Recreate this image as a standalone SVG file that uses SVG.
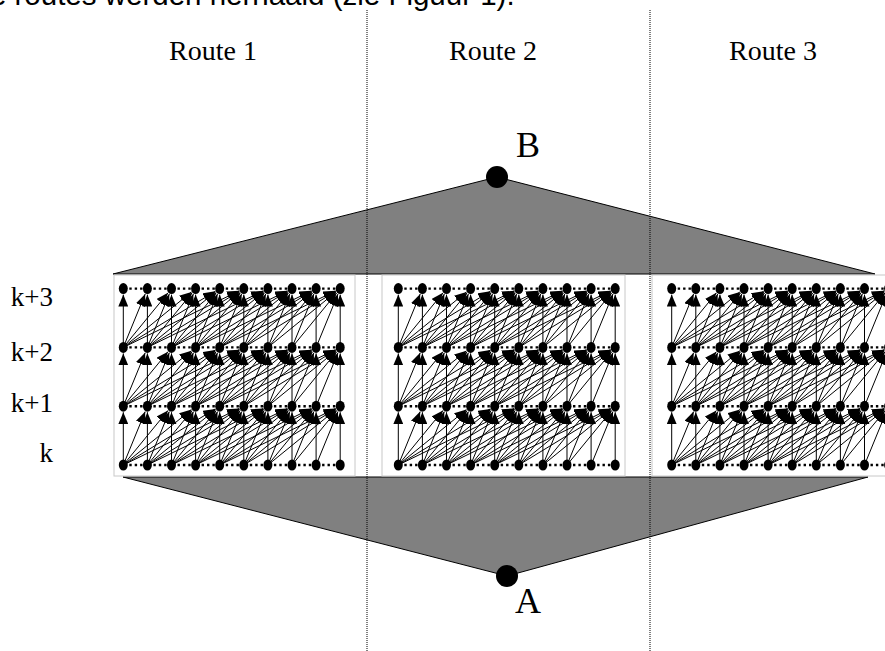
<svg xmlns="http://www.w3.org/2000/svg" xmlns:xlink="http://www.w3.org/1999/xlink" width="885" height="651" viewBox="0 0 885 651">
<style>
  .serif { font-family: "Liberation Serif", "Times New Roman", serif; fill: #000; }
  .sans { font-family: "Liberation Sans", Arial, sans-serif; fill: #000; }
  .tri { fill: #808080; stroke: #000; stroke-width: 1; }
  .box { fill: #fff; stroke: #c8c8c8; stroke-width: 1; }
  .sep { stroke: #000; stroke-width: 1; stroke-dasharray: 1 1; }
  .edge line { stroke: #000; stroke-width: 1; marker-end: url(#ah); }
  .dots { fill: none; stroke: #000; stroke-width: 2.4; stroke-dasharray: 2.4 3; }
  .node ellipse { fill: #000; }
</style>
<defs>
  <marker id="ah" viewBox="0 0 12 10" refX="12" refY="5" markerWidth="12" markerHeight="10" markerUnits="userSpaceOnUse" orient="auto">
    <path d="M0,0 L12,5 L0,10 z" fill="#000"/>
  </marker>
  <!-- dotted links between neighbouring positions of one time row -->
  <path id="dots" d="M6,0h13.5m10.6,0h13.5m10.6,0h13.5m10.6,0h13.5m10.6,0h13.5m10.6,0h13.5m10.6,0h13.5m10.6,0h13.5m10.6,0h13.5"/>
  <!-- transitions from one time row (y=58.8) to the next (y=0), at most five positions ahead -->
  <g id="layer" class="edge">
    <line x1="0" y1="58.8" x2="0" y2="6"/>
    <line x1="24.1" y1="58.8" x2="24.1" y2="6"/>
    <line x1="0" y1="58.8" x2="21.89" y2="5.37"/>
    <line x1="48.2" y1="58.8" x2="48.2" y2="6"/>
    <line x1="24.1" y1="58.8" x2="45.99" y2="5.37"/>
    <line x1="0" y1="58.8" x2="44.7" y2="4.26"/>
    <line x1="72.3" y1="58.8" x2="72.3" y2="6"/>
    <line x1="48.2" y1="58.8" x2="70.09" y2="5.37"/>
    <line x1="24.1" y1="58.8" x2="68.8" y2="4.26"/>
    <line x1="0" y1="58.8" x2="68.17" y2="3.35"/>
    <line x1="96.4" y1="58.8" x2="96.4" y2="6"/>
    <line x1="72.3" y1="58.8" x2="94.19" y2="5.37"/>
    <line x1="48.2" y1="58.8" x2="92.9" y2="4.26"/>
    <line x1="24.1" y1="58.8" x2="92.27" y2="3.35"/>
    <line x1="0" y1="58.8" x2="91.95" y2="2.71"/>
    <line x1="120.5" y1="58.8" x2="120.5" y2="6"/>
    <line x1="96.4" y1="58.8" x2="118.29" y2="5.37"/>
    <line x1="72.3" y1="58.8" x2="117" y2="4.26"/>
    <line x1="48.2" y1="58.8" x2="116.37" y2="3.35"/>
    <line x1="24.1" y1="58.8" x2="116.05" y2="2.71"/>
    <line x1="0" y1="58.8" x2="115.87" y2="2.25"/>
    <line x1="144.6" y1="58.8" x2="144.6" y2="6"/>
    <line x1="120.5" y1="58.8" x2="142.39" y2="5.37"/>
    <line x1="96.4" y1="58.8" x2="141.1" y2="4.26"/>
    <line x1="72.3" y1="58.8" x2="140.47" y2="3.35"/>
    <line x1="48.2" y1="58.8" x2="140.15" y2="2.71"/>
    <line x1="24.1" y1="58.8" x2="139.97" y2="2.25"/>
    <line x1="168.7" y1="58.8" x2="168.7" y2="6"/>
    <line x1="144.6" y1="58.8" x2="166.49" y2="5.37"/>
    <line x1="120.5" y1="58.8" x2="165.2" y2="4.26"/>
    <line x1="96.4" y1="58.8" x2="164.57" y2="3.35"/>
    <line x1="72.3" y1="58.8" x2="164.25" y2="2.71"/>
    <line x1="48.2" y1="58.8" x2="164.07" y2="2.25"/>
    <line x1="192.8" y1="58.8" x2="192.8" y2="6"/>
    <line x1="168.7" y1="58.8" x2="190.59" y2="5.37"/>
    <line x1="144.6" y1="58.8" x2="189.3" y2="4.26"/>
    <line x1="120.5" y1="58.8" x2="188.67" y2="3.35"/>
    <line x1="96.4" y1="58.8" x2="188.35" y2="2.71"/>
    <line x1="72.3" y1="58.8" x2="188.17" y2="2.25"/>
    <line x1="216.9" y1="58.8" x2="216.9" y2="6"/>
    <line x1="192.8" y1="58.8" x2="214.69" y2="5.37"/>
    <line x1="168.7" y1="58.8" x2="213.4" y2="4.26"/>
    <line x1="144.6" y1="58.8" x2="212.77" y2="3.35"/>
    <line x1="120.5" y1="58.8" x2="212.45" y2="2.71"/>
    <line x1="96.4" y1="58.8" x2="212.27" y2="2.25"/>
  </g>
</defs>

<rect width="885" height="651" fill="#fff"/>

<!-- running text above the figure -->
<text class="sans" x="-26.5" y="5" font-size="29.5">de routes werden herhaald (zie Figuur 1).</text>

<!-- funnels towards B (top) and from A (bottom) -->
<g id="funnel-B">
  <polygon class="tri" points="113,274 497,177 875,274"/>
  <circle cx="497" cy="177" r="11" fill="#000"/>
</g>
<g id="funnel-A">
  <polygon class="tri" points="123,477 507,576 868,477"/>
  <circle cx="507" cy="576" r="11" fill="#000"/>
</g>

<!-- route panels -->
<rect class="box" x="114" y="275" width="241" height="201"/>
<rect class="box" x="382" y="275" width="243" height="201"/>
<rect class="box" x="652" y="275" width="240" height="201"/>

<!-- route separators -->
<line class="sep" x1="367" y1="10" x2="367" y2="651"/>
<line class="sep" x1="650" y1="10" x2="650" y2="651"/>

<!-- labels -->
<text class="serif" x="213" y="60" font-size="28" text-anchor="middle">Route 1</text>
<text class="serif" x="493" y="60" font-size="28" text-anchor="middle">Route 2</text>
<text class="serif" x="773" y="60" font-size="28" text-anchor="middle">Route 3</text>
<text class="serif" x="516" y="157" font-size="36">B</text>
<text class="serif" x="515" y="613" font-size="36">A</text>
<text class="serif" x="53" y="306" font-size="27" text-anchor="end">k+3</text>
<text class="serif" x="53" y="361" font-size="27" text-anchor="end">k+2</text>
<text class="serif" x="53" y="412" font-size="27" text-anchor="end">k+1</text>
<text class="serif" x="53" y="462" font-size="27" text-anchor="end">k</text>

<!-- connectors -->
<g id="connectors">
  <use xlink:href="#layer" href="#layer" x="123.3" y="406.2"/>
  <use xlink:href="#layer" href="#layer" x="123.3" y="347.4"/>
  <use xlink:href="#layer" href="#layer" x="123.3" y="288.6"/>
  <use xlink:href="#layer" href="#layer" x="398.3" y="406.2"/>
  <use xlink:href="#layer" href="#layer" x="398.3" y="347.4"/>
  <use xlink:href="#layer" href="#layer" x="398.3" y="288.6"/>
  <use xlink:href="#layer" href="#layer" x="671.7" y="406.2"/>
  <use xlink:href="#layer" href="#layer" x="671.7" y="347.4"/>
  <use xlink:href="#layer" href="#layer" x="671.7" y="288.6"/>
  <g class="dots">
    <use xlink:href="#dots" href="#dots" x="123.3" y="465"/>
    <use xlink:href="#dots" href="#dots" x="123.3" y="406.2"/>
    <use xlink:href="#dots" href="#dots" x="123.3" y="347.4"/>
    <use xlink:href="#dots" href="#dots" x="123.3" y="288.6"/>
    <use xlink:href="#dots" href="#dots" x="398.3" y="465"/>
    <use xlink:href="#dots" href="#dots" x="398.3" y="406.2"/>
    <use xlink:href="#dots" href="#dots" x="398.3" y="347.4"/>
    <use xlink:href="#dots" href="#dots" x="398.3" y="288.6"/>
    <use xlink:href="#dots" href="#dots" x="671.7" y="465"/>
    <use xlink:href="#dots" href="#dots" x="671.7" y="406.2"/>
    <use xlink:href="#dots" href="#dots" x="671.7" y="347.4"/>
    <use xlink:href="#dots" href="#dots" x="671.7" y="288.6"/>
  </g>
</g>

<!-- nodes: route r, time row t, position p -->
<g id="nodes">
<g id="r1-t0-p0" class="node"><ellipse cx="123.3" cy="465" rx="4.5" ry="5.5"/></g>
<g id="r1-t0-p1" class="node"><ellipse cx="147.4" cy="465" rx="4.5" ry="5.5"/></g>
<g id="r1-t0-p2" class="node"><ellipse cx="171.5" cy="465" rx="4.5" ry="5.5"/></g>
<g id="r1-t0-p3" class="node"><ellipse cx="195.6" cy="465" rx="4.5" ry="5.5"/></g>
<g id="r1-t0-p4" class="node"><ellipse cx="219.7" cy="465" rx="4.5" ry="5.5"/></g>
<g id="r1-t0-p5" class="node"><ellipse cx="243.8" cy="465" rx="4.5" ry="5.5"/></g>
<g id="r1-t0-p6" class="node"><ellipse cx="267.9" cy="465" rx="4.5" ry="5.5"/></g>
<g id="r1-t0-p7" class="node"><ellipse cx="292" cy="465" rx="4.5" ry="5.5"/></g>
<g id="r1-t0-p8" class="node"><ellipse cx="316.1" cy="465" rx="4.5" ry="5.5"/></g>
<g id="r1-t0-p9" class="node"><ellipse cx="340.2" cy="465" rx="4.5" ry="5.5"/></g>
<g id="r1-t1-p0" class="node"><ellipse cx="123.3" cy="406.2" rx="4.5" ry="5.5"/></g>
<g id="r1-t1-p1" class="node"><ellipse cx="147.4" cy="406.2" rx="4.5" ry="5.5"/></g>
<g id="r1-t1-p2" class="node"><ellipse cx="171.5" cy="406.2" rx="4.5" ry="5.5"/></g>
<g id="r1-t1-p3" class="node"><ellipse cx="195.6" cy="406.2" rx="4.5" ry="5.5"/></g>
<g id="r1-t1-p4" class="node"><ellipse cx="219.7" cy="406.2" rx="4.5" ry="5.5"/></g>
<g id="r1-t1-p5" class="node"><ellipse cx="243.8" cy="406.2" rx="4.5" ry="5.5"/></g>
<g id="r1-t1-p6" class="node"><ellipse cx="267.9" cy="406.2" rx="4.5" ry="5.5"/></g>
<g id="r1-t1-p7" class="node"><ellipse cx="292" cy="406.2" rx="4.5" ry="5.5"/></g>
<g id="r1-t1-p8" class="node"><ellipse cx="316.1" cy="406.2" rx="4.5" ry="5.5"/></g>
<g id="r1-t1-p9" class="node"><ellipse cx="340.2" cy="406.2" rx="4.5" ry="5.5"/></g>
<g id="r1-t2-p0" class="node"><ellipse cx="123.3" cy="347.4" rx="4.5" ry="5.5"/></g>
<g id="r1-t2-p1" class="node"><ellipse cx="147.4" cy="347.4" rx="4.5" ry="5.5"/></g>
<g id="r1-t2-p2" class="node"><ellipse cx="171.5" cy="347.4" rx="4.5" ry="5.5"/></g>
<g id="r1-t2-p3" class="node"><ellipse cx="195.6" cy="347.4" rx="4.5" ry="5.5"/></g>
<g id="r1-t2-p4" class="node"><ellipse cx="219.7" cy="347.4" rx="4.5" ry="5.5"/></g>
<g id="r1-t2-p5" class="node"><ellipse cx="243.8" cy="347.4" rx="4.5" ry="5.5"/></g>
<g id="r1-t2-p6" class="node"><ellipse cx="267.9" cy="347.4" rx="4.5" ry="5.5"/></g>
<g id="r1-t2-p7" class="node"><ellipse cx="292" cy="347.4" rx="4.5" ry="5.5"/></g>
<g id="r1-t2-p8" class="node"><ellipse cx="316.1" cy="347.4" rx="4.5" ry="5.5"/></g>
<g id="r1-t2-p9" class="node"><ellipse cx="340.2" cy="347.4" rx="4.5" ry="5.5"/></g>
<g id="r1-t3-p0" class="node"><ellipse cx="123.3" cy="288.6" rx="4.5" ry="5.5"/></g>
<g id="r1-t3-p1" class="node"><ellipse cx="147.4" cy="288.6" rx="4.5" ry="5.5"/></g>
<g id="r1-t3-p2" class="node"><ellipse cx="171.5" cy="288.6" rx="4.5" ry="5.5"/></g>
<g id="r1-t3-p3" class="node"><ellipse cx="195.6" cy="288.6" rx="4.5" ry="5.5"/></g>
<g id="r1-t3-p4" class="node"><ellipse cx="219.7" cy="288.6" rx="4.5" ry="5.5"/></g>
<g id="r1-t3-p5" class="node"><ellipse cx="243.8" cy="288.6" rx="4.5" ry="5.5"/></g>
<g id="r1-t3-p6" class="node"><ellipse cx="267.9" cy="288.6" rx="4.5" ry="5.5"/></g>
<g id="r1-t3-p7" class="node"><ellipse cx="292" cy="288.6" rx="4.5" ry="5.5"/></g>
<g id="r1-t3-p8" class="node"><ellipse cx="316.1" cy="288.6" rx="4.5" ry="5.5"/></g>
<g id="r1-t3-p9" class="node"><ellipse cx="340.2" cy="288.6" rx="4.5" ry="5.5"/></g>
<g id="r2-t0-p0" class="node"><ellipse cx="398.3" cy="465" rx="4.5" ry="5.5"/></g>
<g id="r2-t0-p1" class="node"><ellipse cx="422.4" cy="465" rx="4.5" ry="5.5"/></g>
<g id="r2-t0-p2" class="node"><ellipse cx="446.5" cy="465" rx="4.5" ry="5.5"/></g>
<g id="r2-t0-p3" class="node"><ellipse cx="470.6" cy="465" rx="4.5" ry="5.5"/></g>
<g id="r2-t0-p4" class="node"><ellipse cx="494.7" cy="465" rx="4.5" ry="5.5"/></g>
<g id="r2-t0-p5" class="node"><ellipse cx="518.8" cy="465" rx="4.5" ry="5.5"/></g>
<g id="r2-t0-p6" class="node"><ellipse cx="542.9" cy="465" rx="4.5" ry="5.5"/></g>
<g id="r2-t0-p7" class="node"><ellipse cx="567" cy="465" rx="4.5" ry="5.5"/></g>
<g id="r2-t0-p8" class="node"><ellipse cx="591.1" cy="465" rx="4.5" ry="5.5"/></g>
<g id="r2-t0-p9" class="node"><ellipse cx="615.2" cy="465" rx="4.5" ry="5.5"/></g>
<g id="r2-t1-p0" class="node"><ellipse cx="398.3" cy="406.2" rx="4.5" ry="5.5"/></g>
<g id="r2-t1-p1" class="node"><ellipse cx="422.4" cy="406.2" rx="4.5" ry="5.5"/></g>
<g id="r2-t1-p2" class="node"><ellipse cx="446.5" cy="406.2" rx="4.5" ry="5.5"/></g>
<g id="r2-t1-p3" class="node"><ellipse cx="470.6" cy="406.2" rx="4.5" ry="5.5"/></g>
<g id="r2-t1-p4" class="node"><ellipse cx="494.7" cy="406.2" rx="4.5" ry="5.5"/></g>
<g id="r2-t1-p5" class="node"><ellipse cx="518.8" cy="406.2" rx="4.5" ry="5.5"/></g>
<g id="r2-t1-p6" class="node"><ellipse cx="542.9" cy="406.2" rx="4.5" ry="5.5"/></g>
<g id="r2-t1-p7" class="node"><ellipse cx="567" cy="406.2" rx="4.5" ry="5.5"/></g>
<g id="r2-t1-p8" class="node"><ellipse cx="591.1" cy="406.2" rx="4.5" ry="5.5"/></g>
<g id="r2-t1-p9" class="node"><ellipse cx="615.2" cy="406.2" rx="4.5" ry="5.5"/></g>
<g id="r2-t2-p0" class="node"><ellipse cx="398.3" cy="347.4" rx="4.5" ry="5.5"/></g>
<g id="r2-t2-p1" class="node"><ellipse cx="422.4" cy="347.4" rx="4.5" ry="5.5"/></g>
<g id="r2-t2-p2" class="node"><ellipse cx="446.5" cy="347.4" rx="4.5" ry="5.5"/></g>
<g id="r2-t2-p3" class="node"><ellipse cx="470.6" cy="347.4" rx="4.5" ry="5.5"/></g>
<g id="r2-t2-p4" class="node"><ellipse cx="494.7" cy="347.4" rx="4.5" ry="5.5"/></g>
<g id="r2-t2-p5" class="node"><ellipse cx="518.8" cy="347.4" rx="4.5" ry="5.5"/></g>
<g id="r2-t2-p6" class="node"><ellipse cx="542.9" cy="347.4" rx="4.5" ry="5.5"/></g>
<g id="r2-t2-p7" class="node"><ellipse cx="567" cy="347.4" rx="4.5" ry="5.5"/></g>
<g id="r2-t2-p8" class="node"><ellipse cx="591.1" cy="347.4" rx="4.5" ry="5.5"/></g>
<g id="r2-t2-p9" class="node"><ellipse cx="615.2" cy="347.4" rx="4.5" ry="5.5"/></g>
<g id="r2-t3-p0" class="node"><ellipse cx="398.3" cy="288.6" rx="4.5" ry="5.5"/></g>
<g id="r2-t3-p1" class="node"><ellipse cx="422.4" cy="288.6" rx="4.5" ry="5.5"/></g>
<g id="r2-t3-p2" class="node"><ellipse cx="446.5" cy="288.6" rx="4.5" ry="5.5"/></g>
<g id="r2-t3-p3" class="node"><ellipse cx="470.6" cy="288.6" rx="4.5" ry="5.5"/></g>
<g id="r2-t3-p4" class="node"><ellipse cx="494.7" cy="288.6" rx="4.5" ry="5.5"/></g>
<g id="r2-t3-p5" class="node"><ellipse cx="518.8" cy="288.6" rx="4.5" ry="5.5"/></g>
<g id="r2-t3-p6" class="node"><ellipse cx="542.9" cy="288.6" rx="4.5" ry="5.5"/></g>
<g id="r2-t3-p7" class="node"><ellipse cx="567" cy="288.6" rx="4.5" ry="5.5"/></g>
<g id="r2-t3-p8" class="node"><ellipse cx="591.1" cy="288.6" rx="4.5" ry="5.5"/></g>
<g id="r2-t3-p9" class="node"><ellipse cx="615.2" cy="288.6" rx="4.5" ry="5.5"/></g>
<g id="r3-t0-p0" class="node"><ellipse cx="671.7" cy="465" rx="4.5" ry="5.5"/></g>
<g id="r3-t0-p1" class="node"><ellipse cx="695.8" cy="465" rx="4.5" ry="5.5"/></g>
<g id="r3-t0-p2" class="node"><ellipse cx="719.9" cy="465" rx="4.5" ry="5.5"/></g>
<g id="r3-t0-p3" class="node"><ellipse cx="744" cy="465" rx="4.5" ry="5.5"/></g>
<g id="r3-t0-p4" class="node"><ellipse cx="768.1" cy="465" rx="4.5" ry="5.5"/></g>
<g id="r3-t0-p5" class="node"><ellipse cx="792.2" cy="465" rx="4.5" ry="5.5"/></g>
<g id="r3-t0-p6" class="node"><ellipse cx="816.3" cy="465" rx="4.5" ry="5.5"/></g>
<g id="r3-t0-p7" class="node"><ellipse cx="840.4" cy="465" rx="4.5" ry="5.5"/></g>
<g id="r3-t0-p8" class="node"><ellipse cx="864.5" cy="465" rx="4.5" ry="5.5"/></g>
<g id="r3-t0-p9" class="node"><ellipse cx="888.6" cy="465" rx="4.5" ry="5.5"/></g>
<g id="r3-t1-p0" class="node"><ellipse cx="671.7" cy="406.2" rx="4.5" ry="5.5"/></g>
<g id="r3-t1-p1" class="node"><ellipse cx="695.8" cy="406.2" rx="4.5" ry="5.5"/></g>
<g id="r3-t1-p2" class="node"><ellipse cx="719.9" cy="406.2" rx="4.5" ry="5.5"/></g>
<g id="r3-t1-p3" class="node"><ellipse cx="744" cy="406.2" rx="4.5" ry="5.5"/></g>
<g id="r3-t1-p4" class="node"><ellipse cx="768.1" cy="406.2" rx="4.5" ry="5.5"/></g>
<g id="r3-t1-p5" class="node"><ellipse cx="792.2" cy="406.2" rx="4.5" ry="5.5"/></g>
<g id="r3-t1-p6" class="node"><ellipse cx="816.3" cy="406.2" rx="4.5" ry="5.5"/></g>
<g id="r3-t1-p7" class="node"><ellipse cx="840.4" cy="406.2" rx="4.5" ry="5.5"/></g>
<g id="r3-t1-p8" class="node"><ellipse cx="864.5" cy="406.2" rx="4.5" ry="5.5"/></g>
<g id="r3-t1-p9" class="node"><ellipse cx="888.6" cy="406.2" rx="4.5" ry="5.5"/></g>
<g id="r3-t2-p0" class="node"><ellipse cx="671.7" cy="347.4" rx="4.5" ry="5.5"/></g>
<g id="r3-t2-p1" class="node"><ellipse cx="695.8" cy="347.4" rx="4.5" ry="5.5"/></g>
<g id="r3-t2-p2" class="node"><ellipse cx="719.9" cy="347.4" rx="4.5" ry="5.5"/></g>
<g id="r3-t2-p3" class="node"><ellipse cx="744" cy="347.4" rx="4.5" ry="5.5"/></g>
<g id="r3-t2-p4" class="node"><ellipse cx="768.1" cy="347.4" rx="4.5" ry="5.5"/></g>
<g id="r3-t2-p5" class="node"><ellipse cx="792.2" cy="347.4" rx="4.5" ry="5.5"/></g>
<g id="r3-t2-p6" class="node"><ellipse cx="816.3" cy="347.4" rx="4.5" ry="5.5"/></g>
<g id="r3-t2-p7" class="node"><ellipse cx="840.4" cy="347.4" rx="4.5" ry="5.5"/></g>
<g id="r3-t2-p8" class="node"><ellipse cx="864.5" cy="347.4" rx="4.5" ry="5.5"/></g>
<g id="r3-t2-p9" class="node"><ellipse cx="888.6" cy="347.4" rx="4.5" ry="5.5"/></g>
<g id="r3-t3-p0" class="node"><ellipse cx="671.7" cy="288.6" rx="4.5" ry="5.5"/></g>
<g id="r3-t3-p1" class="node"><ellipse cx="695.8" cy="288.6" rx="4.5" ry="5.5"/></g>
<g id="r3-t3-p2" class="node"><ellipse cx="719.9" cy="288.6" rx="4.5" ry="5.5"/></g>
<g id="r3-t3-p3" class="node"><ellipse cx="744" cy="288.6" rx="4.5" ry="5.5"/></g>
<g id="r3-t3-p4" class="node"><ellipse cx="768.1" cy="288.6" rx="4.5" ry="5.5"/></g>
<g id="r3-t3-p5" class="node"><ellipse cx="792.2" cy="288.6" rx="4.5" ry="5.5"/></g>
<g id="r3-t3-p6" class="node"><ellipse cx="816.3" cy="288.6" rx="4.5" ry="5.5"/></g>
<g id="r3-t3-p7" class="node"><ellipse cx="840.4" cy="288.6" rx="4.5" ry="5.5"/></g>
<g id="r3-t3-p8" class="node"><ellipse cx="864.5" cy="288.6" rx="4.5" ry="5.5"/></g>
<g id="r3-t3-p9" class="node"><ellipse cx="888.6" cy="288.6" rx="4.5" ry="5.5"/></g>
</g>
</svg>
